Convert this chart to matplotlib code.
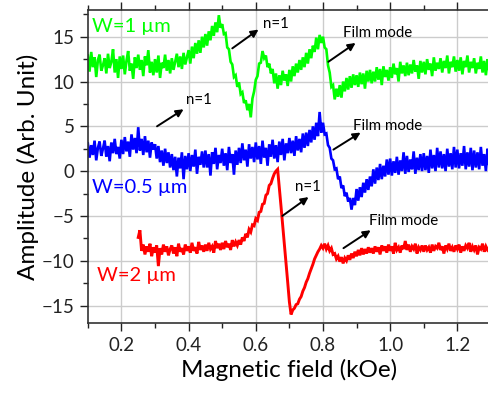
import numpy as np
import matplotlib.pyplot as plt
from matplotlib.ticker import MultipleLocator

plt.rcParams['font.family'] = ['Lato', 'DejaVu Sans']

# field sweep, 0.1 - 1.3 kOe in 5 Oe steps
field = np.linspace(0.1, 1.3, 241)

# W = 1 um strip (offset +12)
w1 = [
    12.9, 11.1, 13.3, 11.6, 12.7, 10.5, 12.4, 13.0, 11.2, 11.8,
    12.6, 10.9, 13.1, 11.5, 12.2, 13.6, 11.0, 12.5, 10.4, 12.8,
    11.4, 12.9, 10.8, 12.3, 13.4, 11.2, 12.0, 10.3, 12.7, 11.5,
    13.0, 11.3, 12.4, 10.6, 12.8, 11.8, 13.5, 11.0, 12.2, 10.7,
    12.5, 11.0, 12.9, 10.4, 12.1, 11.5, 13.0, 11.2, 12.4, 10.9,
    12.6, 11.3, 12.2, 13.1, 11.6, 12.8, 11.4, 13.2, 11.9, 12.7,
    13.5, 12.0, 13.9, 12.6, 14.3, 13.1, 14.6, 13.2, 15.0, 13.8,
    15.3, 14.0, 15.6, 14.6, 16.2, 15.1, 16.6, 15.5, 17.4, 16.0,
    16.4, 15.3, 15.4, 13.8, 13.6, 12.2, 11.9, 10.5, 10.7, 9.4,
    9.9, 8.6, 8.8, 7.6, 7.9, 6.8, 7.5, 6.0, 8.1, 8.9,
    10.2, 10.6, 12.0, 12.1, 13.4, 12.6, 12.9, 11.6, 12.0, 10.9,
    11.4, 9.8, 10.9, 9.2, 10.7, 9.6, 11.2, 10.1, 10.8, 9.5,
    11.3, 10.0, 11.7, 10.6, 12.0, 11.0, 12.4, 11.3, 12.7, 11.6,
    13.2, 12.0, 13.6, 12.6, 14.0, 13.3, 14.9, 13.6, 15.2, 14.3,
    15.0, 13.8, 13.6, 11.8, 11.0, 9.4, 9.6, 8.0, 9.2, 8.3,
    9.6, 8.2, 10.0, 8.9, 10.4, 9.1, 10.6, 9.3, 10.8, 9.6,
    10.7, 9.4, 11.0, 9.7, 10.9, 9.2, 11.2, 10.0, 11.3, 9.8,
    11.1, 10.0, 11.6, 10.2, 11.4, 9.6, 11.7, 10.5, 11.3, 10.1,
    11.6, 10.4, 12.0, 10.8, 11.5, 10.0, 12.2, 10.9, 11.8, 10.6,
    12.1, 10.7, 11.9, 10.9, 12.4, 11.1, 11.8, 10.3, 12.3, 11.0,
    12.2, 10.8, 12.5, 11.3, 12.0, 10.6, 12.7, 11.2, 12.1, 11.4,
    12.6, 11.0, 12.3, 11.5, 12.9, 10.9, 12.2, 11.6, 12.8, 11.1,
    12.4, 11.2, 12.7, 10.8, 12.3, 11.6, 12.9, 11.0, 12.2, 11.5,
    12.6, 10.9, 12.1, 11.4, 12.8, 11.0, 12.3, 10.7, 12.5, 11.2,
    11.8,
]

# W = 0.5 um strip (offset +2)
w05 = [
    3.1, 1.5, 2.9, 1.8, 3.4, 1.2, 2.6, 3.3, 1.7, 2.5,
    3.4, 1.6, 2.8, 1.1, 3.2, 2.0, 3.6, 1.9, 2.7, 1.4,
    3.5, 1.9, 3.8, 2.2, 3.3, 1.6, 4.1, 2.4, 3.7, 2.0,
    4.9, 2.3, 3.6, 1.8, 3.9, 2.1, 3.4, 1.5, 3.2, 2.4,
    3.0, 1.4, 2.8, 1.0, 2.3, 0.6, 2.5, 0.9, 2.1, 0.4,
    1.9, 0.1, 1.6, -0.6, 1.5, 0.3, 2.1, -0.9, 1.7, 0.2,
    2.0, 0.0, 1.8, 0.5, 2.4, -0.3, 1.6, 0.7, 2.2, 0.4,
    2.3, 0.4, 1.9, -0.5, 2.1, 0.8, 2.6, 0.2, 1.8, 0.9,
    2.5, 0.6, 2.0, 0.1, 2.7, 0.9, 1.9, -0.4, 2.3, 0.7,
    2.6, 0.9, 3.1, 1.2, 2.4, 0.5, 3.0, 1.4, 2.7, 1.0,
    3.2, 1.3, 2.8, 0.8, 3.4, 1.5, 2.6, 0.6, 3.0, 1.6,
    3.5, 1.4, 2.9, 1.0, 3.3, 1.8, 3.6, 1.2, 3.1, 2.0,
    3.7, 2.0, 3.4, 1.7, 3.9, 2.3, 3.6, 2.1, 4.2, 2.6,
    4.3, 2.8, 4.6, 3.2, 5.0, 3.5, 5.4, 3.9, 6.6, 4.3,
    5.4, 4.1, 4.2, 2.9, 2.6, 1.4, 1.2, 0.2, 0.3, -0.9,
    -0.6, -1.9, -1.6, -2.8, -2.4, -3.4, -3.0, -4.3, -3.0, -3.8,
    -2.0, -3.3, -1.8, -2.9, -1.3, -2.4, -0.9, -2.1, -0.6, -1.7,
    0.2, -1.4, 0.4, -1.0, 0.8, -0.9, 0.6, -0.6, 1.3, -0.4,
    1.4, -0.5, 1.1, -0.2, 1.6, -0.4, 1.2, 0.0, 2.1, -0.3,
    1.7, -0.1, 1.3, 0.2, 2.2, -0.3, 1.5, 0.1, 1.9, 0.0,
    2.0, 0.1, 1.7, -0.2, 2.4, 0.3, 1.8, 0.0, 2.6, 0.4,
    2.2, 0.3, 1.9, 0.0, 2.5, 0.5, 2.0, 0.2, 2.7, 0.4,
    2.4, 0.3, 2.0, 0.6, 2.8, 0.2, 2.1, 0.5, 2.6, 0.1,
    2.3, 0.4, 2.1, 0.2, 2.7, 0.6, 1.9, 0.0, 2.5, 0.5,
    1.4,
]

# W = 2 um strip (offset -8.6), recorded from 0.25 kOe only
w2_start = 30
w2 = [
    -7.4, -6.6, -8.9, -8.2, -9.3, -8.4, -9.0, -8.1, -9.5, -8.5,
    -9.1, -8.3, -10.6, -8.6, -9.3, -8.2, -9.0, -8.4, -9.4, -8.7,
    -8.3, -9.2, -8.5, -9.5, -8.1, -9.0, -8.6, -9.3, -8.2, -8.9,
    -8.4, -9.1, -8.0, -8.9, -8.5, -9.2, -7.9, -8.8, -8.3, -9.0,
    -8.2, -8.9, -8.0, -8.7, -8.4, -9.1, -7.8, -8.6, -8.1, -8.8,
    -8.0, -8.7, -7.8, -8.5, -8.1, -8.8, -7.7, -8.4, -7.9, -8.3,
    -7.7, -8.2, -7.4, -7.8, -7.0, -7.4, -6.5, -6.8, -6.0, -6.1,
    -5.3, -5.5, -4.6, -4.5, -3.7, -3.6, -2.7, -2.5, -1.6, -1.4,
    -0.8, -0.3, 0.0, 0.2, -1.8, -3.9, -6.0, -8.1, -10.3, -12.4,
    -14.6, -16.0, -15.5, -15.3, -14.9, -14.8, -14.3, -14.0, -13.4, -13.0,
    -12.4, -12.0, -11.4, -10.9, -10.4, -9.8, -9.4, -9.0, -8.7, -8.3,
    -8.6, -8.1, -8.7, -8.3, -8.9, -8.6, -9.3, -9.2, -9.8, -9.5,
    -10.1, -9.6, -10.3, -9.7, -10.0, -9.4, -9.9, -9.2, -9.7, -9.0,
    -9.5, -8.8, -9.4, -8.6, -9.3, -8.7, -9.2, -8.5, -9.1, -8.6,
    -9.2, -8.4, -9.0, -8.5, -9.3, -8.3, -8.9, -8.4, -9.1, -8.2,
    -8.9, -8.4, -9.2, -8.0, -8.8, -8.5, -9.1, -8.3, -8.7, -7.8,
    -8.8, -8.2, -9.0, -8.4, -8.7, -8.1, -9.2, -8.5, -8.8, -8.3,
    -9.0, -8.3, -8.8, -8.5, -9.1, -8.2, -8.9, -8.4, -8.6, -8.0,
    -8.8, -8.4, -9.2, -8.3, -8.7, -8.1, -8.9, -8.5, -9.0, -8.3,
    -8.7, -8.2, -9.1, -8.4, -8.9, -8.3, -8.6, -8.0, -9.0, -8.4,
    -8.8, -8.3, -9.3, -8.5, -8.7, -8.1, -9.0, -8.4, -8.8, -8.6,
    -8.5,
]

# (label, text pos, arrow tail, arrow head)
notes = [
    ("n=1", (0.620, 16.4), (0.530, 13.7), (0.608, 15.8)),
    ("Film mode", (0.860, 15.4), (0.816, 12.2), (0.897, 14.3)),
    ("n=1", (0.393, 7.9), (0.306, 5.0), (0.385, 6.9)),
    ("Film mode", (0.888, 5.0), (0.831, 2.4), (0.912, 4.3)),
    ("n=1", (0.716, -1.8), (0.679, -5.0), (0.757, -2.9)),
    ("Film mode", (0.938, -5.6), (0.861, -8.6), (0.942, -6.6)),
]

GREEN, BLUE, RED = "#00ff00", "#0000ff", "#ff0000"

fig = plt.figure(figsize=(4.88, 3.93), dpi=100)
ax = fig.add_axes([0.180, 0.177, 0.826, 0.798])

ax.plot(field, w1, color=GREEN, lw=1.9, solid_joinstyle="miter")
ax.plot(field, w05, color=BLUE, lw=1.9, solid_joinstyle="miter")
ax.plot(field[w2_start:], w2, color=RED, lw=2.1, solid_joinstyle="miter")

for label, tpos, tail, head in notes:
    ax.annotate("", xy=head, xytext=tail,
                arrowprops=dict(arrowstyle="-|>", color="k", lw=1.4,
                                mutation_scale=11, shrinkA=0, shrinkB=0))
    ax.text(tpos[0], tpos[1], label, fontsize=10.8, va="center", ha="left")

ax.text(0.112, 16.1, "W=1 µm", color=GREEN, fontsize=14.5, va="center")
ax.text(0.112, -1.8, "W=0.5 µm", color=BLUE, fontsize=14.5, va="center")
ax.text(0.127, -11.7, "W=2 µm", color=RED, fontsize=14.5, va="center")

ax.set_xlim(0.1, 1.3)
ax.set_ylim(-17, 18)
ax.xaxis.set_major_locator(MultipleLocator(0.2))
ax.xaxis.set_minor_locator(MultipleLocator(0.1))
ax.yaxis.set_major_locator(MultipleLocator(5))
ax.yaxis.set_minor_locator(MultipleLocator(2.5))
ax.set_xticks([0.2, 0.4, 0.6, 0.8, 1.0, 1.2])
ax.set_xticklabels(["0.2", "0.4", "0.6", "0.8", "1.0", "1.2"])
ax.grid(True, which="major", color="#cccccc", lw=1)
ax.set_axisbelow(True)
ax.tick_params(which="both", direction="out", top=True, right=False,
               labelsize=13.5, colors="#222222")
ax.tick_params(which="major", length=6, width=1)
ax.tick_params(which="minor", length=3.5, width=1)
for side in ("top", "bottom", "left", "right"):
    ax.spines[side].set_color("#333333")
    ax.spines[side].set_linewidth(1.2)

ax.set_xlabel("Magnetic field (kOe)", fontsize=17.5, labelpad=4)
ax.set_ylabel("Amplitude (Arb. Unit)", fontsize=17.5, labelpad=2)

fig.savefig("out.png", dpi=100)
